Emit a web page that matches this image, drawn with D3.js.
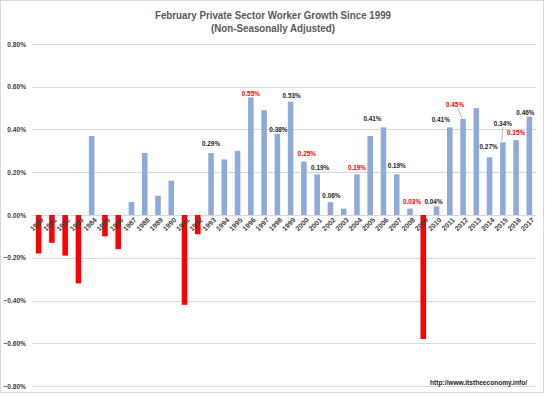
<!DOCTYPE html>
<html>
<head>
<meta charset="utf-8">
<script src="https://cdn.jsdelivr.net/npm/d3@7"></script>
<style>
  body { margin: 0; background: #fff; }
  text { font-family: "Liberation Sans", Arial, sans-serif; font-weight: bold; }
</style>
</head>
<body>
<div id="chart"></div>
<script>
// data
const years = [1980, 1981, 1982, 1983, 1984, 1985, 1986, 1987, 1988, 1989,
    1990, 1991, 1992, 1993, 1994, 1995, 1996, 1997, 1998, 1999,
    2000, 2001, 2002, 2003, 2004, 2005, 2006, 2007, 2008, 2009,
    2010, 2011, 2012, 2013, 2014, 2015, 2016, 2017];
const growth = [-0.18, -0.13, -0.19, -0.32, 0.37, -0.10, -0.16, 0.06, 0.29, 0.09,
    0.16, -0.42, -0.09, 0.29, 0.26, 0.30, 0.55, 0.49, 0.38, 0.53,
    0.25, 0.19, 0.06, 0.03, 0.19, 0.37, 0.41, 0.19, 0.03, -0.58,
    0.04, 0.41, 0.45, 0.50, 0.27, 0.34, 0.35, 0.46];
const labelledYears = [1993, 1996, 1998, 1999, 2000, 2001, 2002, 2004, 2006, 2007,
    2008, 2010, 2011, 2012, 2014, 2015, 2016, 2017];
const redLabelYears = [1996, 2000, 2004, 2008, 2012, 2016];
const yTicks = [-0.8, -0.6, -0.4, -0.2, 0, 0.2, 0.4, 0.6, 0.8];
const titleLines = ["February Private Sector Worker Growth Since 1999", "(Non-Seasonally Adjusted)"];
const sourceText = "http://www.itstheeconomy.info/";

(function () {
    let width = 545, height = 396;
    let svg = d3.select("#chart")
        .append("svg")
        .attr("width", width)
        .attr("height", height);

    let data = years.map((y, i) => ({year: y, value: growth[i]}));

    // chart area border
    svg.append("rect")
        .attr("x", 0.5).attr("y", 0.5)
        .attr("width", 543).attr("height", 392)
        .attr("fill", "none")
        .attr("stroke", "#d9d9d9");

    let x = d3.scaleBand()
        .domain(years)
        .range([32, 536])
        .paddingInner(0.58)
        .paddingOuter(0.29);
    let y = d3.scaleLinear()
        .domain([-0.8, 0.8])
        .range([386, 44]);

    // gridlines
    svg.append("g")
        .selectAll("line")
        .data(yTicks)
        .enter()
        .append("line")
        .attr("x1", 32).attr("x2", 536)
        .attr("y1", d => Math.round(y(d)) + 0.5)
        .attr("y2", d => Math.round(y(d)) + 0.5)
        .attr("stroke", "#d9d9d9")
        .attr("stroke-width", 1);

    // y axis labels
    let yAxis = svg.append("g")
        .attr("transform", "translate(26,0)")
        .call(d3.axisLeft(y).tickValues(yTicks).tickSize(0).tickPadding(0)
            .tickFormat(d => d3.format(".2f")(d) + "%"));
    yAxis.select(".domain").remove();
    yAxis.selectAll("text")
        .attr("font-size", "6.6px")
        .attr("font-family", null)
        .attr("fill", "#404040");

    // bars
    svg.append("g")
        .selectAll("rect")
        .data(data)
        .enter()
        .append("rect")
        .attr("x", d => x(d.year))
        .attr("width", x.bandwidth())
        .attr("y", d => y(Math.max(0, d.value)))
        .attr("height", d => Math.abs(y(d.value) - y(0)))
        .attr("fill", d => d.value < 0 ? "#ff0000" : "#8eaadb");

    // year labels, rotated, drawn over the bars
    svg.append("g")
        .selectAll("text")
        .data(data)
        .enter()
        .append("text")
        .attr("transform", d => `translate(${x(d.year) + x.bandwidth() / 2 + 2},${y(0) + 2}) rotate(-45)`)
        .attr("text-anchor", "end")
        .attr("dy", "0.7em")
        .attr("font-size", "7px")
        .attr("fill", "#404040")
        .text(d => d.year);

    // data labels: nudges for the ones Excel moved
    let nudge = {
        1993: [0, -9], 1996: [0, -4], 1998: [1, -4], 1999: [1, -6], 2000: [3, -8],
        2001: [3, -7], 2002: [1, -6], 2004: [0, -7], 2006: [-11, -9], 2007: [0, -9],
        2008: [2, -7], 2010: [-3, -5], 2011: [-9, -8], 2012: [-8, -14], 2014: [-1, -11],
        2015: [0, -19], 2016: [0, -7], 2017: [-4, -4]
    };
    let leaders = [2012, 2015];
    let labelled = data.filter(d => labelledYears.includes(d.year));
    let cx = d => x(d.year) + x.bandwidth() / 2;

    svg.append("g")
        .selectAll("line")
        .data(labelled.filter(d => leaders.includes(d.year)))
        .enter()
        .append("line")
        .attr("x1", d => cx(d) + nudge[d.year][0] + (d.year === 2012 ? 3 : 0))
        .attr("y1", d => y(d.value) + nudge[d.year][1] + 4)
        .attr("x2", d => cx(d) - 1)
        .attr("y2", d => y(d.value) - 1)
        .attr("stroke", "#a6a6a6")
        .attr("stroke-width", 0.8);

    svg.append("g")
        .selectAll("text")
        .data(labelled)
        .enter()
        .append("text")
        .attr("x", d => cx(d) + nudge[d.year][0])
        .attr("y", d => y(d.value) + nudge[d.year][1] + 2.3)
        .attr("text-anchor", "middle")
        .attr("font-size", "6.4px")
        .attr("fill", d => redLabelYears.includes(d.year) ? "#ff0000" : "#262626")
        .text(d => d3.format(".2f")(d.value) + "%");

    // title
    svg.append("g")
        .selectAll("text")
        .data(titleLines)
        .enter()
        .append("text")
        .attr("x", 273)
        .attr("y", (_, i) => 19 + i * 13)
        .attr("text-anchor", "middle")
        .attr("font-size", "10.5px")
        .attr("fill", "#595959")
        .attr("textLength", (_, i) => i === 0 ? 236 : 124)
        .attr("lengthAdjust", "spacingAndGlyphs")
        .text(d => d);

    // source
    svg.append("text")
        .attr("x", 527)
        .attr("y", 385)
        .attr("text-anchor", "end")
        .attr("font-size", "6.5px")
        .attr("fill", "#262626")
        .attr("textLength", 97)
        .attr("lengthAdjust", "spacingAndGlyphs")
        .text(sourceText);
})()
</script>
</body>
</html>
